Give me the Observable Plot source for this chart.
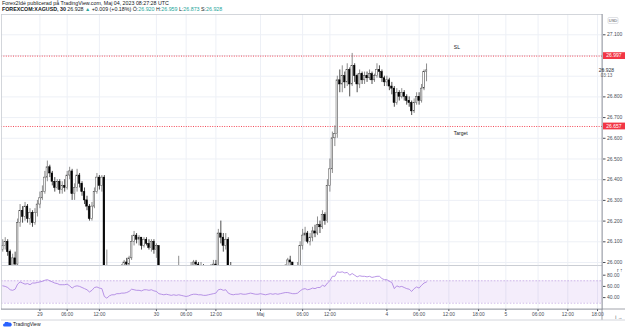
<!DOCTYPE html>
<html>
<head>
<meta charset="utf-8">
<script src="https://cdn.jsdelivr.net/npm/d3@7"></script>
<script src="https://cdn.jsdelivr.net/npm/@observablehq/plot@0.6"></script>
<style>
  body { margin: 0; background: #fff; width: 625px; height: 332px; overflow: hidden; position: relative;
         font-family: "Liberation Sans", Arial, sans-serif; }
  #hdr { position: absolute; left: 2px; top: 0; font-size: 5.3px; line-height: 6px; color: #131722; white-space: nowrap; }
  #hdr .sym { font-weight: 700; }
  #hdr .g { color: #26a69a; }
  #main { position: absolute; left: 0; top: 14px; }
  #rsi { position: absolute; left: 0; top: 265px; }
  #logo { position: absolute; left: 3px; top: 321px; font-size: 5px; color: #131722; display: flex; align-items: center; gap: 1px; }
</style>
</head>
<body>
<div id="hdr">
  <div>Forex2Idé publicerad på TradingView.com, Maj 04, 2023 08:27:28 UTC</div>
  <div><span class="sym">FOREXCOM:XAGUSD, 30</span> 26.928 <span class="g">▲</span> +0.009 (+0.18%) Ö:<span class="g">26.920</span> H:<span class="g">26.959</span> L:<span class="g">26.873</span> S:<span class="g">26.928</span></div>
</div>
<div id="main"></div>
<div id="rsi"></div>
<div id="logo">
  <svg width="9" height="5" viewBox="0 0 18 10"><path d="M3 9a3 3 0 0 1 0-6 4.5 4.5 0 0 1 8.5-1.5A3.5 3.5 0 0 1 15 9z" fill="#2962ff"/></svg>
  <span>TradingView</span>
</div>
<script>
// 30-minute candles, oldest first (open of each bar = previous close)
const firstOpen = 26.06;
const close = [
  26.08, 26.10, 26.05, 25.97, 26.02, 25.99, 26.19, 26.25, 26.22, 26.27,
  26.21, 26.24, 26.19, 26.24, 26.28, 26.31, 26.34, 26.41, 26.46, 26.43,
  26.39, 26.36, 26.39, 26.35, 26.37, 26.36, 26.42, 26.44, 26.33, 26.36,
  26.42, 26.38, 26.34, 26.30, 26.27, 26.21, 26.27, 26.34, 26.41, 26.37,
  26.41, 25.90, 25.95, 25.92, 25.90, 25.93, 25.91, 25.94, 25.96, 26.00,
  25.99, 26.02, 26.10, 26.13, 26.11, 26.12, 26.08, 26.11, 26.09, 26.07,
  26.10, 26.06, 26.08, 25.97, 25.93, 25.91, 25.93, 25.90, 25.88, 25.91,
  25.92, 25.95, 25.93, 25.90, 25.89, 25.93, 25.98, 26.00, 25.99, 25.97,
  25.98, 25.95, 25.93, 25.95, 25.97, 25.99, 25.98, 26.14, 26.12, 26.08,
  26.11, 25.97, 25.94, 25.92, 25.94, 25.93, 25.95, 25.93, 25.92, 25.94,
  25.95, 25.93, 25.92, 25.93, 25.95, 25.94, 25.92, 25.93, 25.95, 25.94,
  25.95, 25.94, 25.95, 25.97, 25.98, 26.01, 26.00, 25.97, 25.96, 25.98,
  26.08, 26.13, 26.14, 26.10, 26.12, 26.15, 26.14, 26.18, 26.17, 26.23,
  26.20, 26.37, 26.45, 26.60, 26.62, 26.88, 26.86, 26.90, 26.87, 26.93,
  26.86, 26.95, 26.90, 26.86, 26.91, 26.88, 26.90, 26.89, 26.91, 26.88,
  26.90, 26.93, 26.92, 26.89, 26.87, 26.88, 26.85, 26.84, 26.77, 26.82,
  26.80, 26.82, 26.80, 26.78, 26.77, 26.73, 26.77, 26.80, 26.78, 26.84,
  26.92, 26.928
];
const high = [
  26.11, 26.12, 26.11, 26.06, 26.04, 26.05, 26.21, 26.28, 26.27, 26.29,
  26.28, 26.26, 26.25, 26.26, 26.30, 26.34, 26.37, 26.44, 26.49, 26.47,
  26.44, 26.41, 26.40, 26.40, 26.39, 26.40, 26.44, 26.46, 26.45, 26.38,
  26.45, 26.43, 26.39, 26.36, 26.32, 26.28, 26.29, 26.36, 26.43, 26.42,
  26.42, 26.42, 26.06, 25.97, 25.95, 25.96, 25.95, 25.97, 25.99, 26.01,
  26.02, 26.03, 26.13, 26.15, 26.14, 26.13, 26.12, 26.12, 26.12, 26.11,
  26.11, 26.11, 26.09, 26.08, 25.98, 25.95, 25.95, 25.94, 25.92, 25.93,
  25.95, 26.03, 25.97, 25.94, 25.92, 25.96, 26.00, 26.01, 26.01, 26.00,
  26.00, 25.99, 25.96, 25.97, 25.99, 26.01, 26.01, 26.16, 26.20, 26.14,
  26.14, 26.12, 26.00, 25.96, 25.96, 25.96, 25.97, 25.96, 25.95, 25.96,
  25.97, 25.96, 25.94, 25.95, 25.97, 25.96, 25.95, 25.95, 25.97, 25.96,
  25.97, 25.96, 25.97, 25.98, 25.99, 26.02, 26.03, 26.00, 25.98, 26.00,
  26.10, 26.16, 26.17, 26.15, 26.14, 26.17, 26.18, 26.22, 26.20, 26.25,
  26.24, 26.40, 26.50, 26.63, 26.66, 26.90, 26.93, 26.95, 26.92, 26.96,
  26.94, 27.01, 26.96, 26.91, 26.93, 26.92, 26.92, 26.92, 26.93, 26.92,
  26.91, 26.96, 26.95, 26.93, 26.90, 26.90, 26.89, 26.87, 26.85, 26.84,
  26.83, 26.84, 26.83, 26.81, 26.80, 26.78, 26.79, 26.82, 26.82, 26.86,
  26.93, 26.959
];
const low = [
  26.05, 26.06, 26.03, 25.95, 25.94, 25.96, 25.98, 26.17, 26.19, 26.20,
  26.19, 26.18, 26.17, 26.18, 26.22, 26.26, 26.30, 26.33, 26.39, 26.41,
  26.37, 26.34, 26.35, 26.33, 26.33, 26.34, 26.35, 26.40, 26.30, 26.30,
  26.34, 26.36, 26.32, 26.28, 26.25, 26.20, 26.20, 26.26, 26.33, 26.35,
  26.34, 25.85, 25.88, 25.88, 25.86, 25.89, 25.88, 25.90, 25.92, 25.94,
  25.97, 25.97, 26.01, 26.08, 26.09, 26.08, 26.06, 26.07, 26.08, 26.06,
  26.05, 26.04, 26.02, 25.95, 25.90, 25.88, 25.89, 25.87, 25.85, 25.86,
  25.89, 25.91, 25.91, 25.88, 25.86, 25.88, 25.92, 25.96, 25.97, 25.95,
  25.94, 25.93, 25.91, 25.92, 25.94, 25.96, 25.96, 25.97, 26.09, 26.05,
  26.06, 25.94, 25.90, 25.89, 25.90, 25.91, 25.92, 25.91, 25.90, 25.91,
  25.93, 25.91, 25.90, 25.91, 25.92, 25.92, 25.90, 25.91, 25.92, 25.92,
  25.93, 25.92, 25.93, 25.94, 25.95, 25.97, 25.98, 25.95, 25.94, 25.95,
  25.97, 26.06, 26.10, 26.09, 26.08, 26.10, 26.12, 26.13, 26.14, 26.16,
  26.18, 26.19, 26.34, 26.43, 26.56, 26.60, 26.82, 26.82, 26.84, 26.85,
  26.80, 26.85, 26.87, 26.82, 26.84, 26.86, 26.86, 26.87, 26.88, 26.86,
  26.87, 26.89, 26.89, 26.87, 26.85, 26.85, 26.83, 26.81, 26.75, 26.76,
  26.78, 26.79, 26.78, 26.76, 26.75, 26.71, 26.72, 26.76, 26.76, 26.77,
  26.83, 26.873
];
// RSI(14) per bar
const rsi = [
  61, 60, 58, 54, 53, 55, 64, 68, 66, 64,
  65, 63, 66, 66, 67, 68, 69, 71, 72, 70,
  68, 66, 65, 63, 63, 63, 64, 61, 57, 60,
  61, 60, 58, 56, 54, 50, 53, 58, 59, 57,
  56, 42, 39, 43, 45, 45, 47, 47, 48, 48,
  49, 51, 55, 54, 53, 53, 52, 54, 54, 53,
  54, 52, 51, 47, 46, 45, 46, 45, 44, 45,
  44, 45, 44, 43, 42, 43, 45, 46, 46, 45,
  45, 44, 44, 45, 46, 47, 48, 54, 55, 53,
  54, 48, 46, 45, 46, 46, 47, 46, 46, 47,
  48, 47, 46, 46, 47, 46, 45, 46, 47, 46,
  47, 46, 47, 48, 49, 49, 48, 47, 47, 48,
  52, 55, 56, 54, 55, 57, 56, 58, 58, 62,
  60, 66, 70, 78, 78, 86, 85, 86, 84, 85,
  80, 83, 80, 77, 79, 78, 78, 77, 78, 76,
  77, 78, 78, 74, 72, 72, 69, 67, 56, 61,
  59, 60, 58, 56, 55, 51, 56, 59, 57, 62,
  66, 68
];

// Time axis: bar index of each label
const tickIndex = [15, 26, 39, 62, 74, 86, 104, 121, 132, 155, 168, 180, 192, 203, 216, 228, 240];
const tickLabel = ["29", "06:00", "12:00", "30", "06:00", "12:00", "Maj", "06:00", "12:00", "4", "06:00", "12:00", "18:00", "5", "06:00", "12:00", "18:00"];

// Price scale
const priceGrid = [26.0, 26.1, 26.2, 26.3, 26.4, 26.5, 26.6, 26.7, 26.8, 26.9, 27.0, 27.1];
const priceTicks = [26.0, 26.1, 26.2, 26.3, 26.4, 26.5, 26.6, 26.7, 26.8, 27.1];
const rsiTicks = [80, 60, 40];
const rsiBand = [30, 70];

// Stop-loss and target levels with their chart notes
const levels = [26.997, 26.657];
const noteText = ["SL", "Target"];
const noteIndex = [182, 182];
const notePrice = [27.04, 26.625];
const lastPrice = 26.928;
const countdown = "03:13";

const font = '"Liberation Sans", Arial, sans-serif';
const gridColor = "#edf0f6";
const borderColor = "#c9ccd3";
const axisColor = "#8a8e98";
const textColor = "#131722";
const red = "#f23645";
const xDomain = [-0.5, 242];

const bars = close.map((c, i) => ({
  i, open: i ? close[i - 1] : firstOpen, high: high[i], low: low[i], close: c
}));
const up = d => d.close >= d.open;
const labelAt = new Map(tickIndex.map((t, k) => [t, tickLabel[k]]));

const main = Plot.plot({
  width: 625, height: 251,
  marginLeft: 1, marginRight: 23, marginTop: 0, marginBottom: 0,
  x: {domain: xDomain, axis: null},
  y: {domain: [25.9855, 27.198], axis: null},
  style: {fontFamily: font, background: "transparent", overflow: "visible"},
  marks: [
    Plot.ruleY(priceGrid, {stroke: gridColor, strokeWidth: 1}),
    Plot.ruleX(tickIndex, {stroke: gridColor, strokeWidth: 1}),
    Plot.ruleY(levels, {stroke: red, strokeWidth: 0.9, strokeDasharray: "1,1.4"}),
    Plot.ruleX(bars, {x: "i", y1: "low", y2: "high", stroke: d => up(d) ? "#5d5d5d" : "#000", strokeWidth: 0.7, clip: true}),
    Plot.rect(bars, {
      x1: d => d.i - 0.32, x2: d => d.i + 0.32, y1: "open", y2: "close",
      fill: d => up(d) ? "#fff" : "#000", stroke: d => up(d) ? "#4a4a4a" : "#000", strokeWidth: 0.5, clip: true
    }),
    Plot.text(noteText, {
      x: (d, k) => noteIndex[k], y: (d, k) => notePrice[k], text: d => d,
      textAnchor: "start", fontSize: 5, fill: textColor
    }),
    Plot.frame({stroke: borderColor, strokeWidth: 0.8}),
    Plot.axisY(priceTicks, {
      anchor: "right", tickFormat: d3.format(".3f"), tickSize: 2.5, tickPadding: 2,
      fontSize: 5, color: "#4a4e58"
    })
  ]
});
document.getElementById("main").append(main);

// right price-scale extras: axis line, level tags, last price, currency box
{
  const y = main.scale("y");
  const svg = d3.select(main);
  svg.append("line").attr("x1", 602).attr("x2", 602).attr("y1", 0).attr("y2", 251)
    .attr("stroke", axisColor).attr("stroke-width", 0.8);
  levels.forEach(v => {
    const yy = y.apply(v);
    svg.append("rect").attr("x", 603).attr("y", yy - 3.4).attr("width", 22).attr("height", 6.8).attr("fill", red);
    svg.append("text").attr("x", 614).attr("y", yy).attr("dy", "0.35em").attr("text-anchor", "middle")
      .attr("font-size", 5).attr("fill", "#fff").attr("font-family", font).text(d3.format(".3f")(v));
  });
  const yp = y.apply(lastPrice);
  svg.append("line").attr("x1", 602).attr("x2", 604.5).attr("y1", yp).attr("y2", yp).attr("stroke", axisColor).attr("stroke-width", 0.8);
  svg.append("text").attr("x", 606.5).attr("y", yp).attr("dy", "0.35em").attr("font-size", 5)
    .attr("fill", "#2a2e39").attr("font-family", font).text(d3.format(".3f")(lastPrice));
  svg.append("text").attr("x", 606.5).attr("y", yp + 5.5).attr("dy", "0.35em").attr("font-size", 4.6)
    .attr("fill", "#5d606b").attr("font-family", font).text(countdown);
  svg.append("rect").attr("x", 608).attr("y", 3.5).attr("width", 10).attr("height", 6).attr("rx", 1)
    .attr("fill", "#fff").attr("stroke", borderColor).attr("stroke-width", 0.6);
  svg.append("text").attr("x", 613).attr("y", 6.6).attr("dy", "0.35em").attr("text-anchor", "middle")
    .attr("font-size", 4).attr("fill", "#4a4e58").attr("font-family", font).text("USD");
}

const rsiRows = rsi.map((r, i) => ({i, r}));
const rsiPlot = Plot.plot({
  width: 625, height: 56,
  marginLeft: 1, marginRight: 23, marginTop: 0, marginBottom: 12,
  x: {domain: xDomain},
  y: {domain: [18.75, 97.3], axis: null},
  style: {fontFamily: font, background: "transparent", overflow: "visible"},
  marks: [
    Plot.ruleX(tickIndex, {stroke: gridColor, strokeWidth: 1}),
    Plot.rect([rsiBand], {y1: d => d[0], y2: d => d[1], fill: "#9c5fd9", fillOpacity: 0.11}),
    Plot.ruleY(rsiBand, {stroke: "#b48fdc", strokeWidth: 0.6, strokeDasharray: "1.6,1.6"}),
    Plot.line(rsiRows, {x: "i", y: "r", stroke: "#a77be0", strokeWidth: 0.8, clip: true}),
    Plot.frame({stroke: borderColor, strokeWidth: 0.8}),
    Plot.axisY(rsiTicks, {
      anchor: "right", tickFormat: d3.format(".2f"), tickSize: 2.5, tickPadding: 2,
      fontSize: 5, color: "#4a4e58"
    }),
    Plot.axisX(tickIndex, {
      tickFormat: d => labelAt.get(d), tickSize: 2, tickPadding: 1.5,
      fontSize: 4.8, color: "#4a4e58"
    })
  ]
});
document.getElementById("rsi").append(rsiPlot);

// time-scale border and price-scale separator running through the bottom strip
{
  const svg = d3.select(rsiPlot);
  svg.append("line").attr("x1", 602).attr("x2", 602).attr("y1", 0).attr("y2", 55)
    .attr("stroke", axisColor).attr("stroke-width", 0.8);
  svg.append("line").attr("x1", 1).attr("x2", 625).attr("y1", 44).attr("y2", 44)
    .attr("stroke", axisColor).attr("stroke-width", 0.8);
  svg.append("line").attr("x1", 1).attr("x2", 625).attr("y1", 55).attr("y2", 55)
    .attr("stroke", borderColor).attr("stroke-width", 0.8);
}
</script>
</body>
</html>
